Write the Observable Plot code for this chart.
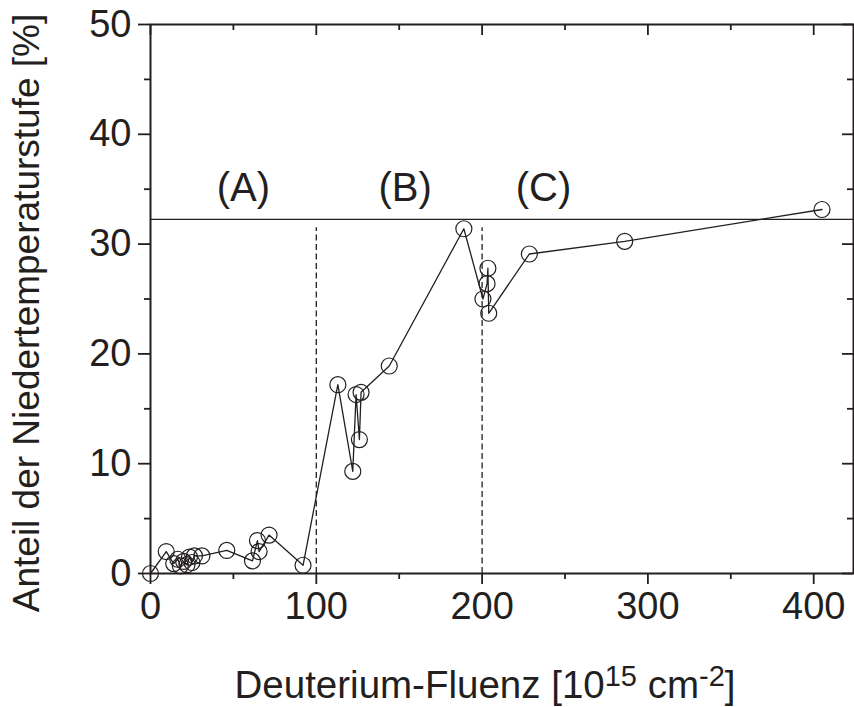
<!DOCTYPE html>
<html>
<head>
<meta charset="utf-8">
<script src="https://cdn.jsdelivr.net/npm/d3@7"></script>
<script src="https://cdn.jsdelivr.net/npm/@observablehq/plot@0.6"></script>
<style>
  body { margin: 0; background: #fff; }
  svg { display: block; }
</style>
</head>
<body>
<div id="chart"></div>
<script>
// Deuterium fluence (10^15 cm^-2) in measurement order
const fluenz = [0, 9.5, 14, 16.5, 18, 20, 22, 23.5, 25, 26.5, 31, 46, 61.5, 64.5, 65.5, 71.5, 92,
  113, 122, 124, 126, 127, 144, 189, 200.5, 203, 203.5, 204, 228.5, 286, 405];
// Share of the low-temperature stage (%)
const anteil = [0, 2.0, 0.9, 1.3, 0.7, 1.1, 0.8, 1.5, 1.0, 1.6, 1.6, 2.1, 1.15, 3.0, 2.0, 3.5, 0.75,
  17.2, 9.3, 16.3, 12.2, 16.5, 18.9, 31.4, 25.0, 26.4, 27.8, 23.7, 29.1, 30.25, 33.15];

// Saturation level and region boundaries
const saturation = [32.25];
const boundaries = [100, 200];
const boundaryTop = 31.5;

// Region labels
const regionLabels = ["(A)", "(B)", "(C)"];
const regionX = [56, 153.6, 237];
const regionY = [35.1, 35.1, 35.1];

// Axis ticks
const xMajor = [0, 100, 200, 300, 400];
const xMinor = [50, 150, 250, 350];
const yMajor = [0, 10, 20, 30, 40, 50];
const yMinor = [5, 15, 25, 35, 45];

const xTitle = "Deuterium-Fluenz [10";
const yTitle = "Anteil der Niedertemperaturstufe [%]";

const points = fluenz.map((x, i) => ({x, y: anteil[i]}));
const labels = regionLabels.map((t, i) => ({t, x: regionX[i], y: regionY[i]}));

const W = 854, H = 707;
const mL = 150, mR = 1, mT = 24, mB = 134;
const innerW = W - mL - mR, innerH = H - mT - mB;
const ink = "#231f20";
const axisW = 1.8;

const svg = Plot.plot({
  width: W,
  height: H,
  marginLeft: mL,
  marginRight: mR,
  marginTop: mT,
  marginBottom: mB,
  style: {fontFamily: "'Liberation Sans', Arial, sans-serif", color: ink, background: "#fff"},
  x: {domain: [0, 424]},
  y: {domain: [0, 50]},
  marks: [
    // outward ticks and labels, bottom and left
    Plot.axisX({anchor: "bottom", ticks: xMajor, tickSize: 11, tickPadding: 8, fontSize: 38,
      tickFormat: d => String(d), label: null, strokeWidth: axisW}),
    Plot.axisX({anchor: "bottom", ticks: xMinor, tickSize: 6, tickFormat: () => "", label: null, strokeWidth: axisW}),
    Plot.axisY({anchor: "left", ticks: yMajor, tickSize: 12, tickPadding: 7, fontSize: 38,
      tickFormat: d => String(d), label: null, strokeWidth: axisW}),
    Plot.axisY({anchor: "left", ticks: yMinor, tickSize: 6, tickFormat: () => "", label: null, strokeWidth: axisW}),
    // inward ticks on the mirrored top and right axes
    Plot.tickX(xMajor, {x: d => d, insetBottom: innerH - 11, stroke: ink, strokeWidth: axisW}),
    Plot.tickX(xMinor, {x: d => d, insetBottom: innerH - 6, stroke: ink, strokeWidth: axisW}),
    Plot.tickY(yMajor, {y: d => d, insetLeft: innerW - 11, stroke: ink, strokeWidth: axisW}),
    Plot.tickY(yMinor, {y: d => d, insetLeft: innerW - 6, stroke: ink, strokeWidth: axisW}),
    Plot.frame({stroke: ink, strokeWidth: 2}),
    // saturation level and region boundaries
    Plot.ruleY(saturation, {y: d => d, stroke: ink, strokeWidth: 1.3}),
    Plot.ruleX(boundaries, {x: d => d, y1: 0, y2: boundaryTop, stroke: ink, strokeWidth: 1.3, strokeDasharray: "6,3.5"}),
    // measured series
    Plot.line(points, {x: "x", y: "y", stroke: ink, strokeWidth: 1.3}),
    Plot.dot(points, {x: "x", y: "y", r: 8, stroke: ink, strokeWidth: 1.2, fill: "none"}),
    Plot.text(labels, {x: "x", y: "y", text: "t", fontSize: 40, fill: ink}),
    // axis titles
    Plot.text([xTitle], {frameAnchor: "bottom", textAnchor: "middle", dx: -17, dy: 124, lineAnchor: "bottom", fontSize: 38.5, fill: ink}),
    Plot.text([yTitle], {frameAnchor: "left", textAnchor: "middle", rotate: -90, dx: -123, dy: 14, lineAnchor: "middle", fontSize: 37, fill: ink})
  ]
});

// superscripts in the x-axis title: 10^15 cm^-2
for (const t of svg.querySelectorAll("text")) {
  if (t.textContent === xTitle) {
    const ns = "http://www.w3.org/2000/svg";
    const parts = [["15", -12, 29], [" cm", 12, null], ["-2", -12, 29], ["]", 12, null]];
    for (const [s, dy, fs] of parts) {
      const sp = document.createElementNS(ns, "tspan");
      sp.setAttribute("dy", dy);
      if (fs) sp.setAttribute("font-size", fs);
      sp.textContent = s;
      t.appendChild(sp);
    }
  }
}

document.getElementById("chart").appendChild(svg);
</script>
</body>
</html>
